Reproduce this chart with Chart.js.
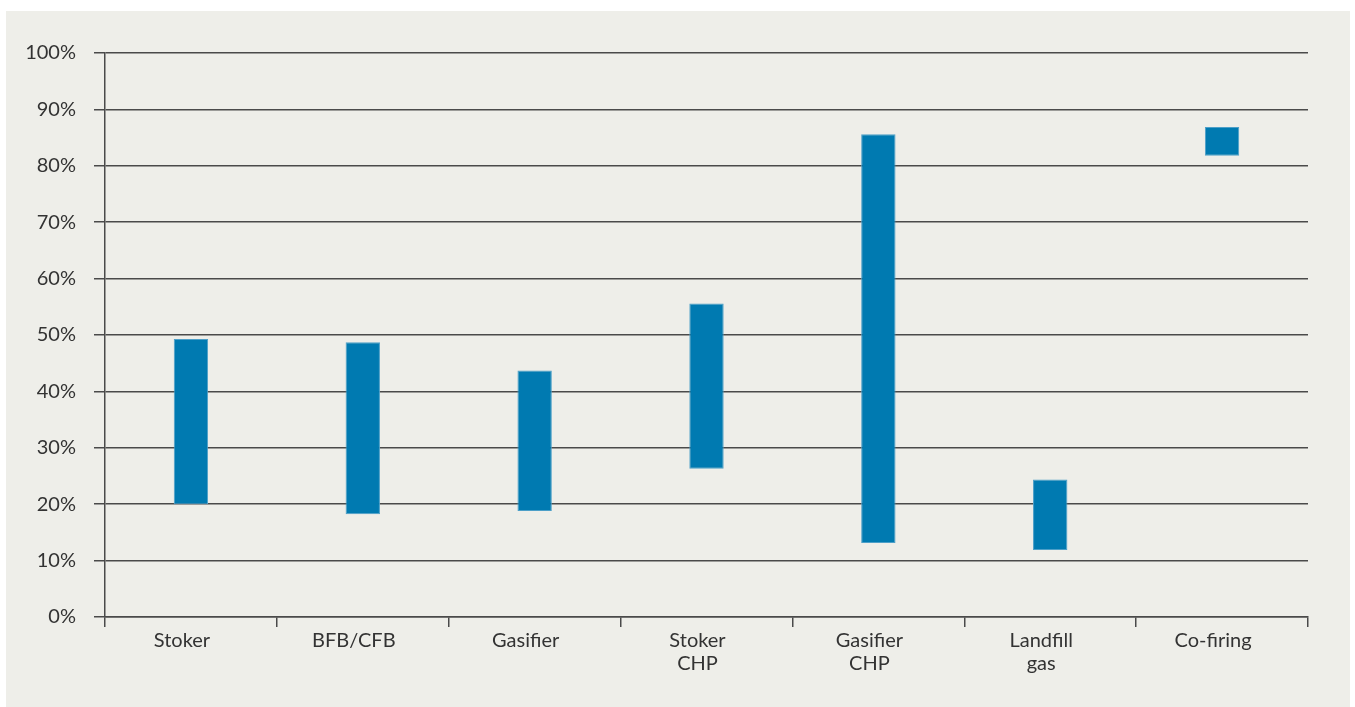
<!DOCTYPE html>
<html>
<head>
<meta charset="utf-8">
<script src="https://cdn.jsdelivr.net/npm/chart.js@4"></script>
<style>
  html, body { margin: 0; padding: 0; background: #ffffff; }
  #wrap { width: 1355px; height: 707px; }
</style>
</head>
<body>
<div id="wrap"><canvas id="rangeChart" width="1355" height="707"></canvas></div>
<script>
// categories and low/high ranges (%)
var categories = ['Stoker', 'BFB/CFB', 'Gasifier', ['Stoker', 'CHP'], ['Gasifier', 'CHP'], ['Landfill', 'gas'], 'Co-firing'];
var lowValues = [20, 18.2, 18.8, 26.3, 13.1, 11.9, 81.8];
var highValues = [49.3, 48.7, 43.7, 55.6, 85.6, 24.4, 86.9];
var yTicks = [0, 10, 20, 30, 40, 50, 60, 70, 80, 90, 100];

var ranges = lowValues.map(function (lo, i) { return [lo, highValues[i]]; });

// grey panel behind the chart
var panelBg = {
    id: 'panelBg',
    beforeDraw: function (chart) {
        var ctx = chart.ctx;
        ctx.save();
        ctx.fillStyle = '#ffffff';
        ctx.fillRect(0, 0, chart.width, chart.height);
        ctx.fillStyle = '#eeeee9';
        ctx.fillRect(6, 11, 1344, 696);
        ctx.restore();
    }
};

var ctx = document.getElementById('rangeChart').getContext('2d');
var myChart = new Chart(ctx, {
    type: 'bar',
    data: {
        labels: categories,
        datasets: [{
            data: ranges,
            backgroundColor: '#007ab1',
            borderColor: '#4c9fc8',
            borderWidth: 1,
            borderSkipped: false,
            barPercentage: 0.2,
            categoryPercentage: 1
        }]
    },
    options: {
        responsive: false,
        animation: false,
        layout: { padding: { top: 53, right: 47, bottom: 0, left: 0 } },
        plugins: {
            legend: { display: false },
            tooltip: { enabled: false }
        },
        scales: {
            x: {
                afterFit: function (scale) { scale.height = 90; },
                grid: {
                    drawOnChartArea: false,
                    drawTicks: true,
                    tickLength: 10,
                    color: '#4a4a4a',
                    lineWidth: 1.5
                },
                border: { color: '#4a4a4a', width: 1.5 },
                ticks: {
                    color: '#333333',
                    font: { family: 'Lato', size: 20, lineHeight: 1.15 },
                    padding: 2,
                    labelOffset: -9,
                    maxRotation: 0,
                    autoSkip: false
                }
            },
            y: {
                min: 0,
                max: 100,
                afterFit: function (scale) { scale.width = 105; },
                afterBuildTicks: function (scale) {
                    scale.ticks = yTicks.map(function (v) { return { value: v }; });
                },
                grid: {
                    color: '#4a4a4a',
                    lineWidth: 1.5,
                    tickLength: 11
                },
                border: { color: '#4a4a4a', width: 1.5 },
                ticks: {
                    color: '#333333',
                    font: { family: 'Lato', size: 20 },
                    padding: 18,
                    callback: function (value) {
                        return value + '%';
                    }
                }
            }
        }
    },
    plugins: [panelBg]
});
</script>
</body>
</html>
